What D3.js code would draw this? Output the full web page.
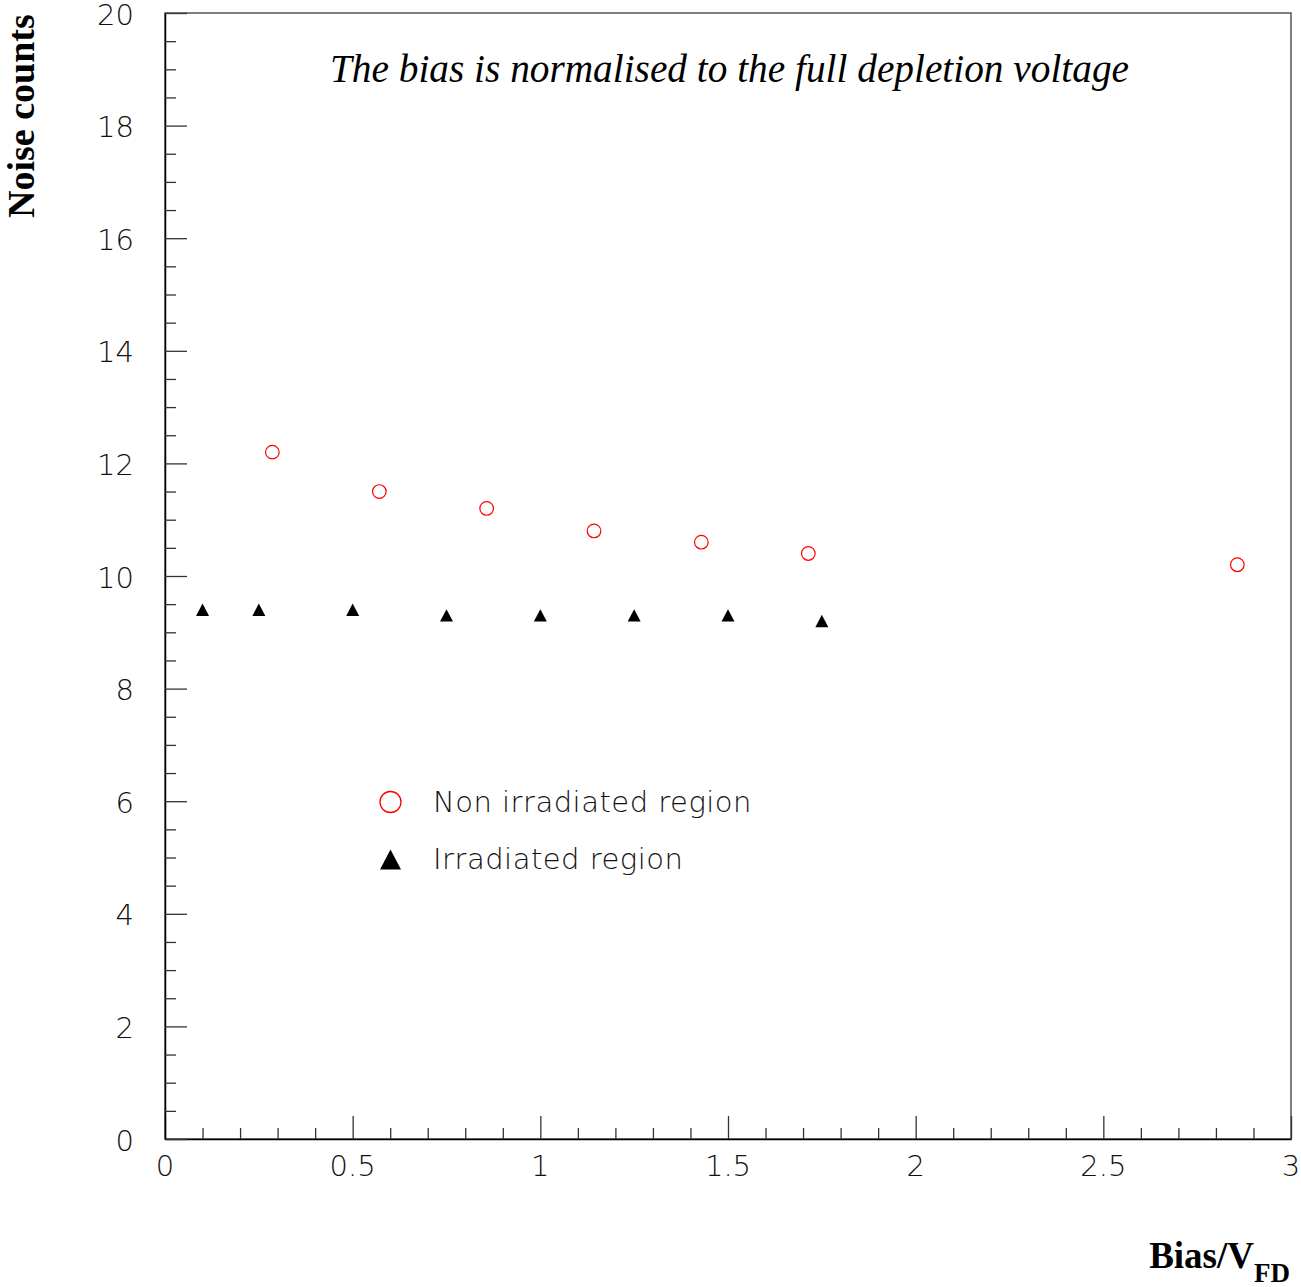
<!DOCTYPE html>
<html>
<head>
<meta charset="utf-8">
<script src="https://cdn.jsdelivr.net/npm/d3@7"></script>
<style>
  body { margin: 0; background: #fff; }
  .tick-label { font-family: "DejaVu Sans", sans-serif; font-weight: 200; font-size: 29px; fill: #111; }
  .leg-label { letter-spacing: 0.5px; }
</style>
</head>
<body>
<div id="chart"></div>
<script>
// non irradiated region (red open circles)
var nonIrrX = [0.286, 0.571, 0.857, 1.143, 1.429, 1.714, 2.857];
var nonIrrY = [12.2, 11.5, 11.2, 10.8, 10.6, 10.4, 10.2];
// irradiated region (black triangles)
var irrX = [0.1, 0.25, 0.5, 0.75, 1.0, 1.25, 1.5, 1.75];
var irrY = [9.4, 9.4, 9.4, 9.3, 9.3, 9.3, 9.3, 9.2];

var xTicks = [0, 0.5, 1, 1.5, 2, 2.5, 3];
var yTicks = [0, 2, 4, 6, 8, 10, 12, 14, 16, 18, 20];

var W = 1301, H = 1287;
var padL = 165, padR = 1291, padT = 13, padB = 1139;

var svg = d3.select('#chart').append('svg')
    .attr('width', W)
    .attr('height', H);

var x = d3.scaleLinear().domain([0, 3]).range([padL, padR]);
var y = d3.scaleLinear().domain([0, 20]).range([padB, padT]);

// frame
svg.append('rect')
    .attr('x', padL).attr('y', padT)
    .attr('width', padR - padL).attr('height', padB - padT)
    .attr('fill', 'none').attr('stroke', '#555').attr('stroke-width', 1.5);

// x axis
var xAxis = d3.axisTop(x)
    .tickValues(d3.range(0, 31).map(function(d) { return d / 10; }))
    .tickSize(0).tickFormat('');
var gx = svg.append('g').attr('transform', 'translate(0,' + padB + ')');
gx.call(xAxis);
gx.select('.domain').attr('stroke', '#000').attr('stroke-width', 1.5);
gx.selectAll('.tick line')
    .attr('y2', function(d, i) { return i % 5 === 0 ? -23 : -11; })
    .attr('stroke', '#333').attr('stroke-width', 1.3);

svg.selectAll('.xlab')
    .data(xTicks)
    .enter()
    .append('text')
    .attr('class', 'tick-label')
    .attr('x', function(d) { return x(d); })
    .attr('y', 1176)
    .attr('text-anchor', 'middle')
    .text(function(d) { return String(d); });

// y axis
var yAxis = d3.axisRight(y)
    .tickValues(d3.range(0, 41).map(function(d) { return d / 2; }))
    .tickSize(0).tickFormat('');
var gy = svg.append('g').attr('transform', 'translate(' + padL + ',0)');
gy.call(yAxis);
gy.select('.domain').attr('stroke', '#000').attr('stroke-width', 1.5);
gy.selectAll('.tick line')
    .attr('x2', function(d, i) { return i % 4 === 0 ? 22 : 11; })
    .attr('stroke', '#333').attr('stroke-width', 1.3);

svg.selectAll('.ylab')
    .data(yTicks)
    .enter()
    .append('text')
    .attr('class', 'tick-label')
    .attr('x', 134)
    .attr('y', function(d) { return y(d); })
    .attr('dy', '0.4em')
    .attr('text-anchor', 'end')
    .text(function(d) { return String(d); });

// points
var circ = d3.range(nonIrrX.length).map(function(i) { return [nonIrrX[i], nonIrrY[i]]; });
var tri = d3.range(irrX.length).map(function(i) { return [irrX[i], irrY[i]]; });

svg.selectAll('.circ')
    .data(circ)
    .enter()
    .append('circle')
    .attr('cx', function(d) { return x(d[0]); })
    .attr('cy', function(d) { return y(d[1]); })
    .attr('r', 6.8)
    .attr('fill', 'none')
    .attr('stroke', '#f00')
    .attr('stroke-width', 1.2);

function triPath(cx, cy, s) {
    var h = s * 0.95;
    return 'M' + (cx - s / 2) + ',' + (cy + h / 2) +
        'L' + (cx + s / 2) + ',' + (cy + h / 2) +
        'L' + cx + ',' + (cy - h / 2) + 'Z';
}

svg.selectAll('.tri')
    .data(tri)
    .enter()
    .append('path')
    .attr('d', function(d) { return triPath(x(d[0]), y(d[1]), 13); })
    .attr('fill', '#000');

// legend
svg.append('circle')
    .attr('cx', 390.5).attr('cy', 802).attr('r', 10.5)
    .attr('fill', 'none').attr('stroke', '#f00').attr('stroke-width', 1.3);
svg.append('path')
    .attr('d', triPath(390.5, 859.5, 21))
    .attr('fill', '#000');
svg.append('text').attr('class', 'tick-label leg-label')
    .attr('x', 433).attr('y', 812)
    .text('Non irradiated region');
svg.append('text').attr('class', 'tick-label leg-label')
    .attr('x', 433).attr('y', 869)
    .text('Irradiated region');

// title
svg.append('text')
    .attr('x', 330).attr('y', 82)
    .style('font-family', '"Liberation Serif", "Times New Roman", serif')
    .style('font-style', 'italic')
    .style('font-size', '39.3px')
    .text('The bias is normalised to the full depletion voltage');

// y title
svg.append('text')
    .attr('transform', 'translate(34,218) rotate(-90)')
    .style('font-family', '"Liberation Serif", "Times New Roman", serif')
    .style('font-weight', 'bold')
    .style('font-size', '38px')
    .text('Noise counts');

// x title
var xt = svg.append('text')
    .attr('x', 1290).attr('y', 1268)
    .attr('text-anchor', 'end')
    .style('font-family', '"Liberation Serif", "Times New Roman", serif')
    .style('font-weight', 'bold')
    .style('font-size', '37px');
xt.append('tspan').text('Bias/V');
xt.append('tspan').attr('dy', 14).style('font-size', '27px').text('FD');
</script>
</body>
</html>
